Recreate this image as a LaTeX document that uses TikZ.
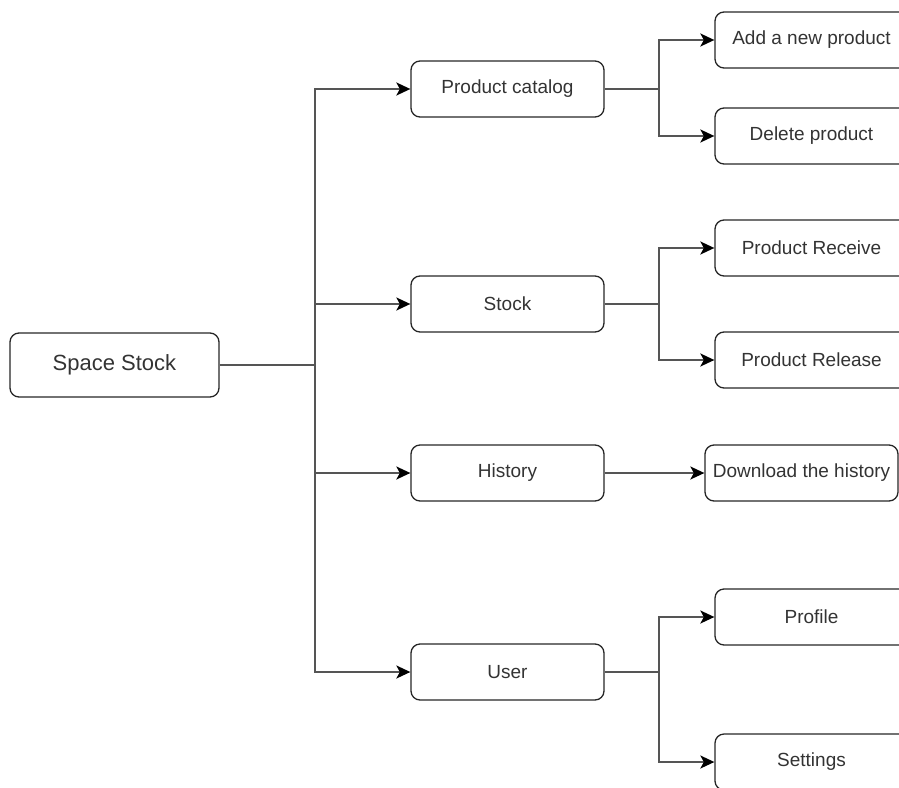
\documentclass[tikz,border=0pt]{standalone}
\usepackage{fontspec}
\setmainfont{Liberation Sans}
\usetikzlibrary{arrows.meta}
\definecolor{txt}{HTML}{333333}
\definecolor{wire}{HTML}{555555}
\begin{document}
\begin{tikzpicture}[x=1pt, y=-1pt,
		nodes={draw=black!85, line width=1.3pt, rounded corners=9pt, minimum width=193pt,
			minimum height=56pt, inner sep=0pt, text=txt, font=\fontsize{19}{23}\selectfont},
		link/.style={draw=wire, line width=2pt},
		tip/.style={link, -{Stealth[length=14pt, width=13pt, inset=3.5pt, black]}}]
	\useasboundingbox (0,0) rectangle (899,787);
	\clip (0,0) rectangle (899,787);
	\node (root) [minimum width=209pt, minimum height=64pt, font=\fontsize{22}{26}\selectfont] at (114.5,365) {Space Stock};
	\node (cat) at (507.5,89) {Product catalog};
	\node (stk) at (507.5,304) {Stock};
	\node (his) at (507.5,473) {History};
	\node (usr) at (507.5,672) {User};
	\node (add) at (811.5,40) {Add a new product};
	\node (del) at (811.5,136) {Delete product};
	\node (rec) at (811.5,248) {Product Receive};
	\node (rel) at (811.5,360) {Product Release};
	\node (dl) at (801.5,473) {Download the history};
	\node (prof) at (811.5,617) {Profile};
	\node (set) at (811.5,762) {Settings};
	% junctions
	\coordinate (trunk) at (315,365);
	\coordinate (catj) at (659,89);
	\coordinate (stkj) at (659,304);
	\coordinate (usrj) at (659,672);
	\draw[link] (root) -- (trunk);
	\draw[tip] (trunk) |- (cat);
	\draw[tip] (trunk) |- (stk);
	\draw[tip] (trunk) |- (his);
	\draw[tip] (trunk) |- (usr);
	\draw[link] (cat) -- (catj);
	\draw[tip] (catj) |- (add);
	\draw[tip] (catj) |- (del);
	\draw[link] (stk) -- (stkj);
	\draw[tip] (stkj) |- (rec);
	\draw[tip] (stkj) |- (rel);
	\draw[tip] (his) -- (dl);
	\draw[link] (usr) -- (usrj);
	\draw[tip] (usrj) |- (prof);
	\draw[tip] (usrj) |- (set);
\end{tikzpicture}
\end{document}
